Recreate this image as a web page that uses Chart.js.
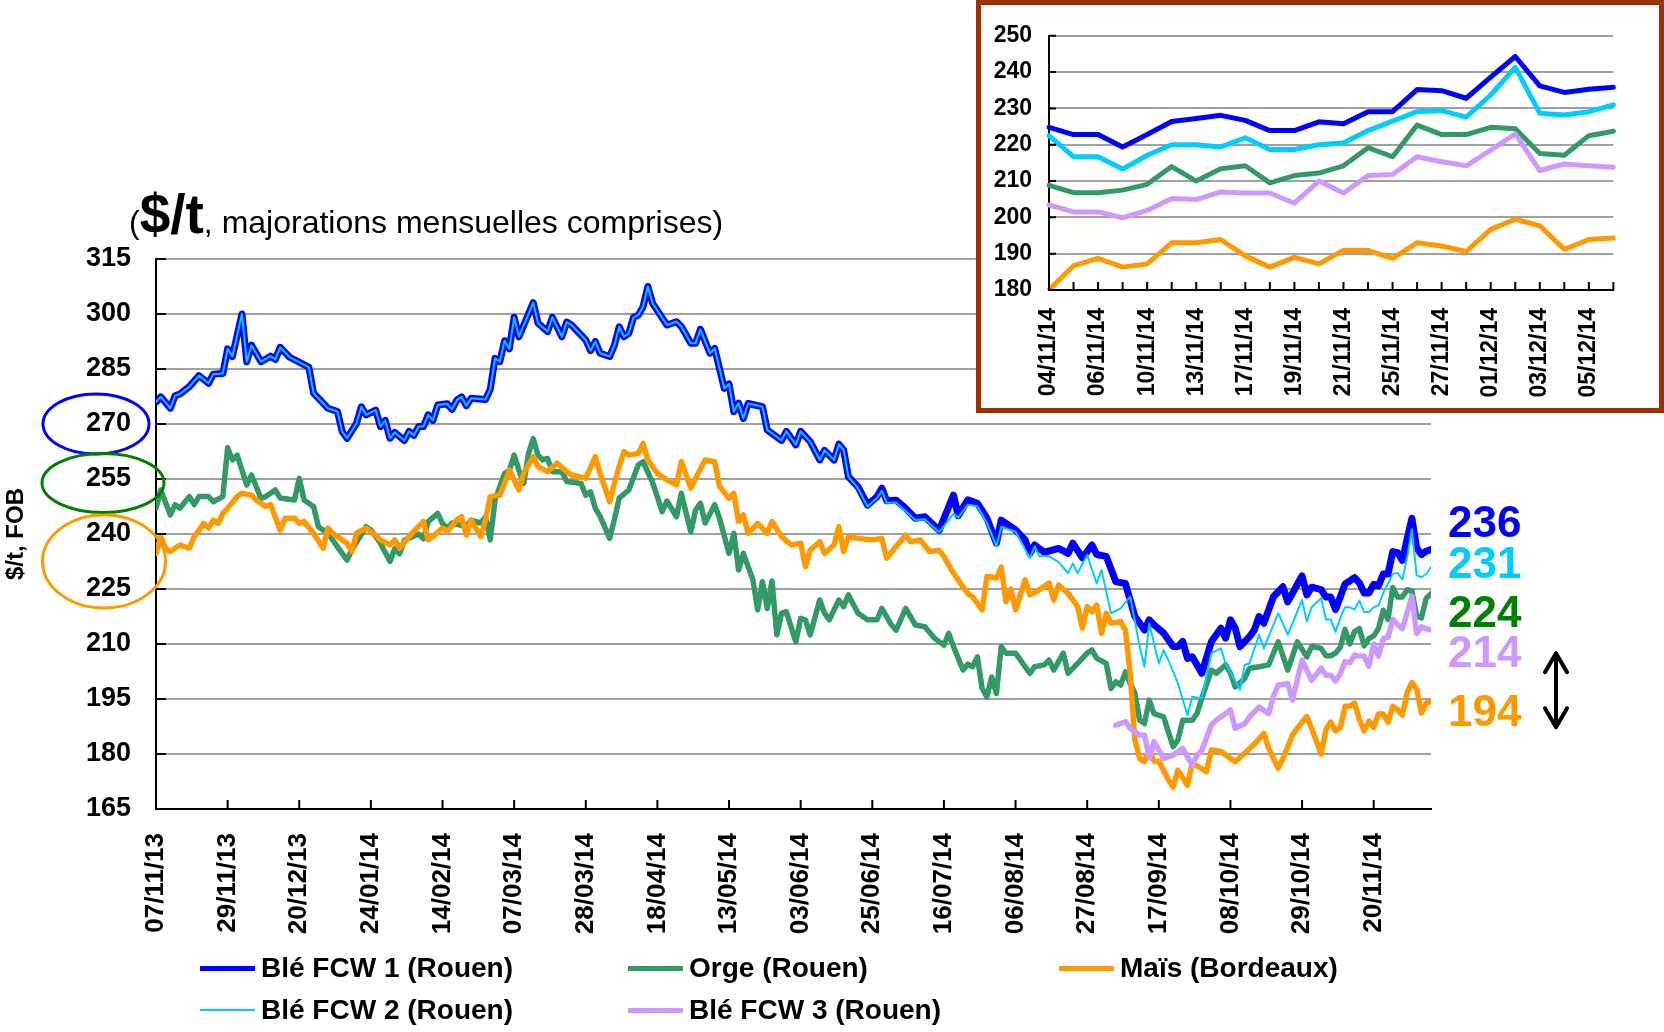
<!DOCTYPE html>
<html>
<head>
<meta charset="utf-8">
<script src="https://cdn.jsdelivr.net/npm/chart.js@4.4.0/dist/chart.umd.min.js"></script>
<style>
    html, body { margin: 0; padding: 0; background: #fff; }
    body { width: 1664px; height: 1032px; position: relative; overflow: hidden; font-family: "Liberation Sans", Arial, sans-serif; color: #000; }
    #main { position: absolute; left: 0; top: 0; }
    #insetBox { position: absolute; left: 976px; top: 0; width: 688px; height: 413px; border: 5px solid #993300; box-sizing: border-box; background: #fff; }
    #inset { position: absolute; left: 0; top: 0; }
    #title { position: absolute; left: 129px; top: 187px; display: flex; align-items: baseline; white-space: pre; }
    #title .small { font-size: 32px; line-height: 1; }
    #title .big { font-size: 55px; font-weight: bold; line-height: 1; }
    .last-value { position: absolute; left: 1448px; font-size: 44px; font-weight: bold; line-height: 1; }
    .legend-item { position: absolute; height: 28px; display: flex; align-items: center; font-size: 28px; font-weight: bold; line-height: 1; white-space: nowrap; }
    .legend-item .swatch { width: 55px; margin-right: 6px; }
</style>
</head>
<body>
<canvas id="main" width="1664" height="1032"></canvas>
<div id="title"><span class="small">(</span><span class="big">$/t</span><span class="small">, majorations mensuelles comprises)</span></div>
<div id="insetBox"><canvas id="inset" width="678" height="403"></canvas></div>
<div id="labels"></div>
<div id="legend"></div>
<script>
// x axis dates, one label every 15 quotation days
const tickDates = ['07/11/13', '29/11/13', '20/12/13', '24/01/14', '14/02/14', '07/03/14', '28/03/14', '18/04/14', '13/05/14',
    '03/06/14', '25/06/14', '16/07/14', '06/08/14', '27/08/14', '17/09/14', '08/10/14', '29/10/14', '20/11/14'];
const lastDay = 267;

// [quotation day, $/t], up to 31/10/14
const ble1 = [[0,276],[1,277.4],[3,274.3],[4,277.7],[5,278.2],[7,280.2],[9,283.2],[11,281.1],[12,283.6],[14,283.8],[15,290.5],[16,288.4],[18,300],[19,287],[20,291.5],[22,287],[24,288.5],[25,287.6],[26,290.9],[28,288.2],[32,285.5],[33,278.4],[36,274.3],[38,273.4],[39,267.9],[40,266.1],[42,270.2],[43,274.7],[44,272.5],[46,273.8],[47,269.3],[48,271],[49,266.1],[50,267.7],[52,265.5],[53,268],[54,266.9],[55,269.3],[56,269.3],[57,272.5],[58,271],[59,275.2],[61,275.5],[62,274],[63,276.5],[64,277.4],[65,275],[66,277],[69,276.7],[70,279.5],[71,287.9],[72,287],[73,292.7],[74,290.5],[75,299.1],[76,293.8],[79,303.1],[80,297.5],[82,295.2],[83,299.1],[85,293.8],[86,297.8],[87,297],[90,292.9],[91,290],[92,292.5],[93,289.3],[95,288.4],[96,291.5],[97,296.5],[98,293.8],[99,294.7],[100,299.1],[101,299.7],[102,302],[103,307.5],[104,302.9],[107,297],[109,297.9],[110,296.6],[112,292],[113,292],[114,295.8],[116,289.3],[117,290.6],[119,279.7],[120,280.9],[121,273.4],[122,275.7],[123,271.5],[124,275.6],[127,274.7],[128,268.4],[131,265.5],[132,268],[134,264.3],[135,268],[137,265.2],[139,260.2],[140,262.8],[142,260.2],[143,264.5],[144,262.9],[145,255.6],[147,252.9],[149,247.9],[151,250.2],[152,252.5],[153,249.1],[155,249.2],[157,247],[159,244.3],[161,244.7],[164,241],[167,250.6],[168,245],[170,249.3],[172,248.4],[174,244.3],[176,237.5],[177,243.8],[180,241.1],[182,238.4],[183,234.7],[184,237],[186,235],[189,236.1],[191,234.7],[192,237.5],[194,233.5],[196,237],[197,234.4],[199,233.9],[201,227],[203,226.5],[205,217.5],[207,213.8],[208,216.6],[209,215.2],[211,213],[213,209.3],[214,209.3],[215,210.7],[216,206.1],[217,206.5],[219,202],[221,210.6],[223,214.3],[224,211.6],[225,216.6],[226,214.3],[227,209.3],[229,212],[230,213.8],[231,217.5],[232,215.7],[234,222.9],[236,225.6],[237,221.5],[240,228.6],[241,223.4],[242,225.5]];
const ble2 = [[0,276],[1,277.4],[3,274.3],[4,277.7],[5,278.2],[7,280.2],[9,283.2],[11,281.1],[12,283.6],[14,283.8],[15,290.5],[16,288.4],[18,300],[19,287],[20,291.5],[22,287],[24,288.5],[25,287.6],[26,290.9],[28,288.2],[32,285.5],[33,278.4],[36,274.3],[38,273.4],[39,267.9],[40,266.1],[42,270.2],[43,274.7],[44,272.5],[46,273.8],[47,269.3],[48,271],[49,266.1],[50,267.7],[52,265.5],[53,268],[54,266.9],[55,269.3],[56,269.3],[57,272.5],[58,271],[59,275.2],[61,275.5],[62,274],[63,276.5],[64,277.4],[65,275],[66,277],[69,276.7],[70,279.5],[71,287.9],[72,287],[73,292.7],[74,290.5],[75,299.1],[76,293.8],[79,303.1],[80,297.5],[82,295.2],[83,299.1],[85,293.8],[86,297.8],[87,297],[90,292.9],[91,290],[92,292.5],[93,289.3],[95,288.4],[96,291.5],[97,296.5],[98,293.8],[99,294.7],[100,299.1],[101,299.7],[102,302],[103,307.5],[104,302.9],[107,297],[109,297.9],[110,296.6],[112,292],[113,292],[114,295.8],[116,289.3],[117,290.6],[119,279.7],[120,280.9],[121,273.4],[122,275.7],[123,271.5],[124,275.6],[127,274.7],[128,268.4],[131,265.5],[132,268],[134,264.3],[135,268],[137,265.2],[139,260.2],[140,262.8],[142,260.2],[143,264.5],[144,262.9],[145,255.6],[147,252.5],[149,247.5],[151,249.8],[152,251.8],[153,248.5],[155,248.5],[157,246.2],[159,243.8],[161,244],[164,240.5],[167,245.5],[168,244.5],[170,248],[172,247.6],[174,243],[176,236.6],[177,241.9],[180,240.6],[183,233.4],[184,236.6],[185,233.9],[187,233.9],[189,232.4],[191,229.3],[192,232],[193,229.3],[195,234.3],[197,226.5],[198,230.2],[200,218.4],[202,219.7],[204,222.9],[206,209.3],[207,203.8],[208,215.6],[210,204.7],[211,208.3],[212,205.6],[214,199.3],[216,190.6],[217,195.6],[219,195.2],[221,207.5],[223,208.8],[224,204.7],[227,197.5],[228,204.3],[229,204.7],[231,212.5],[232,208.8],[235,218.4],[237,212.5],[240,222],[241,216.1],[242,220]];
const orge = [[0,247],[1,252],[3,245.2],[4,248],[5,247],[7,250.2],[8,248],[9,250.2],[11,250.2],[12,248.8],[14,250.2],[15,263.5],[16,260.2],[17,261.5],[19,253.4],[20,256.1],[22,249.7],[23,250.2],[25,252],[26,249.8],[29,249.3],[30,255.2],[31,249.3],[33,247.5],[34,242],[36,240.2],[38,236.5],[40,232.9],[41,235.6],[44,242],[45,241.1],[47,237.5],[49,232.5],[50,236],[51,234.6],[52,238.3],[55,240],[56,238.7],[57,243.4],[59,245.6],[60,242.9],[61,241.6],[62,243],[65,242],[66,243.8],[68,243],[69,244.7],[70,238.4],[71,249.3],[73,256.5],[74,257.4],[75,261.5],[76,257.4],[77,253.8],[78,261.9],[79,266],[80,261.5],[81,260.2],[82,260.6],[83,257],[85,257],[86,254.3],[89,253.8],[90,250.6],[91,251.5],[92,247],[93,244.8],[95,238.8],[96,244],[97,249.8],[99,252],[101,258.8],[102,259.7],[104,254],[106,246.1],[107,249],[109,244.7],[110,251.1],[112,240.6],[113,246.5],[114,248.4],[115,243],[117,248],[118,244.3],[120,234.7],[121,240.2],[122,230.2],[123,234.7],[125,227.5],[126,219.3],[127,227],[128,219.7],[129,227.2],[130,212.5],[131,218.4],[132,218.8],[134,210.6],[135,217],[136,216.6],[137,212.5],[139,222],[140,218.4],[141,216.6],[143,222],[144,220.2],[145,223.4],[147,218.4],[149,216.6],[151,216.6],[152,219.7],[154,215.2],[155,213.8],[157,219.7],[159,215.2],[161,214.7],[163,211.6],[165,209.7],[166,212.9],[167,209.3],[169,202.9],[170,204.5],[171,203.8],[172,206.5],[173,197.9],[174,195.6],[175,201],[176,196.5],[177,209.3],[178,207.5],[180,207.5],[183,202],[184,203.8],[186,204.3],[187,205.6],[188,202.9],[190,207.5],[191,202],[193,204.7],[195,207.5],[196,208.4],[197,206.1],[199,204.7],[200,197.9],[201,199.7],[202,198.8],[203,202.4],[204,199.3],[205,196.5],[206,189.2],[207,188.3],[208,194.7],[209,191],[211,190.1],[213,182],[214,183.8],[215,189.2],[217,189.2],[218,191],[219,195.2],[221,202.9],[222,202],[224,204.3],[225,202],[226,198.3],[228,200.6],[229,203.4],[231,203.8],[233,204.3],[235,210.6],[237,202.9],[239,210.6],[241,206.5],[242,209.3]];
const mais = [[0,234.7],[1,239.3],[2,236.1],[3,235.2],[5,237],[7,236.1],[8,239.3],[9,241],[10,242.9],[11,241.6],[12,243.8],[13,242.9],[14,245.6],[15,247],[17,250.2],[18,251.1],[20,250.6],[21,249.3],[23,247.5],[24,248],[26,241.1],[27,244.3],[29,244.3],[30,242.9],[31,243.4],[33,240.2],[35,236.1],[36,241.6],[37,240.2],[39,238.4],[40,237.5],[41,235.2],[42,240.2],[44,241.6],[46,239.7],[47,238.4],[49,237],[50,238.4],[51,236.1],[53,239.3],[54,240.7],[56,243.4],[57,238.4],[58,239.3],[60,241.6],[61,240.7],[63,243.8],[64,244.7],[65,239.7],[66,243.8],[68,239.3],[69,243.8],[70,250.2],[72,250.6],[73,253.8],[74,257.5],[76,252],[77,256.5],[79,261.1],[80,258.4],[82,257],[84,259.3],[86,257],[87,256.1],[90,255.2],[92,261.1],[93,256.5],[95,248.8],[96,253.8],[97,258.4],[98,262.5],[99,261.5],[101,262],[102,264.7],[103,260.2],[105,256.5],[107,254.7],[109,253.4],[110,259.7],[112,252.5],[113,255.2],[115,260.2],[117,259.7],[118,253],[120,249.7],[121,251.1],[122,243.4],[123,245.2],[124,240.2],[126,242.9],[128,240.2],[129,243.4],[131,239.3],[133,237],[135,237.5],[136,231.1],[137,235.6],[139,237.9],[140,234.7],[142,237],[143,242],[144,235.2],[145,239.3],[147,238.8],[150,238.4],[152,238.8],[153,233.4],[155,236.6],[157,239.7],[158,237.9],[160,238.4],[162,235.2],[164,235.6],[165,233.8],[167,229.3],[169,225.6],[170,223.8],[171,222.9],[173,219.3],[174,228.4],[176,228],[177,231],[178,221.5],[179,225],[180,219.3],[182,227.5],[183,223.4],[185,224.8],[187,226.6],[188,222],[189,226.1],[191,223.8],[193,220.2],[194,214.3],[195,220.2],[196,218.8],[197,220.6],[198,212.9],[199,218.4],[200,215.7],[202,216.1],[203,213.8],[204,202],[205,183.8],[206,178.8],[207,177.9],[208,181.6],[209,178],[210,178],[212,173],[213,171],[214,175.6],[216,171.5],[217,177.5],[220,175.2],[221,181.1],[223,180.7],[226,177.9],[228,180.2],[230,182.7],[232,185.6],[233,181.6],[235,176.1],[236,178.8],[238,185.2],[239,187],[241,190.2],[242,187]];
const ble3 = [[201,187.9],[203,188.8],[204,187],[206,185.1],[207,185.1],[208,178.9],[209,183.4],[211,178.8],[213,179.7],[214,180.6],[215,181.5],[217,177],[218,179.7],[219,181],[221,187.9],[222,189.2],[225,192],[226,187],[228,188.3],[229,190.1],[231,192.8],[233,191],[234,195.6],[235,198.8],[237,199.2],[238,194.7],[240,205.6],[242,200.1]];

// inset: daily quotes 04/11/14 - 08/12/14 (also the end of the main chart)
const insetDates = ['04/11/14', '05/11/14', '06/11/14', '07/11/14', '10/11/14', '12/11/14', '13/11/14', '14/11/14', '17/11/14', '18/11/14', '19/11/14', '20/11/14',
    '21/11/14', '24/11/14', '25/11/14', '26/11/14', '27/11/14', '28/11/14', '01/12/14', '02/12/14', '03/12/14', '04/12/14', '05/12/14', '08/12/14'];
const insetStartDay = 244;
const insetBle1 = [224.8, 222.8, 222.8, 219.4, 222.8, 226.4, 227.2, 228.1, 226.7, 223.9, 223.9, 226.3, 225.8, 229.1, 229.1, 235.2, 234.9, 232.8, 238.6, 244.3, 236.2, 234.4, 235.3, 235.8];
const insetBle2 = [222.5, 216.7, 216.7, 213.3, 217.1, 220, 220, 219.4, 221.9, 218.7, 218.7, 220, 220.5, 223.9, 226.5, 229.1, 229.4, 227.6, 233.7, 241.3, 228.7, 228.2, 229.1, 231];
const insetOrge = [208.8, 206.8, 206.8, 207.5, 209.1, 214, 210, 213.4, 214.2, 209.5, 211.5, 212.2, 214.2, 219.2, 216.7, 225.4, 222.8, 222.8, 224.8, 224.4, 217.6, 217.1, 222.5, 223.7];
const insetBle3 = [203.4, 201.5, 201.5, 199.9, 201.9, 205.2, 204.9, 207, 206.7, 206.7, 203.9, 210, 206.7, 211.5, 211.8, 216.7, 215.3, 214.2, 218.5, 223, 212.9, 214.7, 214.2, 213.8];
const insetMais = [180, 186.7, 188.7, 186.3, 187.2, 193, 193, 193.9, 189.4, 186.3, 189, 187.2, 190.9, 190.9, 188.7, 193, 192.1, 190.6, 196.7, 199.5, 197.7, 191.2, 193.9, 194.3];

Chart.defaults.font.family = '"Liberation Sans", Arial, sans-serif';
Chart.defaults.color = '#000';

const series = [
    { name: 'Blé FCW 1 (Rouen)', main: ble1, inset: insetBle1, color: '#0000FF', width: 7, order: 4, valueColor: '#0000FF' },
    { name: 'Blé FCW 2 (Rouen)', main: ble2, inset: insetBle2, color: '#00CCFF', width: 2, order: 0, valueColor: '#00CCFF' },
    { name: 'Orge (Rouen)', main: orge, inset: insetOrge, color: '#339966', width: 5.5, order: 3, valueColor: '#008000' },
    { name: 'Blé FCW 3 (Rouen)', main: ble3, inset: insetBle3, color: '#CC99FF', width: 5.5, order: 1, valueColor: '#CC99FF' },
    { name: 'Maïs (Bordeaux)', main: mais, inset: insetMais, color: '#FF9900', width: 5.5, order: 2, valueColor: '#FF9900' }
];

const toPoints = (pairs, insetValues) => pairs
    .concat(insetValues.map((v, i) => [insetStartDay + i, v]))
    .map(([x, y]) => ({ x, y }));

// small tick marks drawn inside the plot, as in the original
const innerTicks = {
    id: 'innerTicks',
    afterDatasetsDraw(chart, args, opts) {
        const { ctx, chartArea, scales: { x, y } } = chart;
        ctx.save();
        ctx.strokeStyle = '#000';
        ctx.lineWidth = 2;
        ctx.beginPath();
        x.ticks.forEach((t, i) => {
            const px = x.getPixelForTick(i);
            ctx.moveTo(px, chartArea.bottom);
            ctx.lineTo(px, chartArea.bottom - opts.x);
        });
        y.ticks.forEach((t, i) => {
            const py = y.getPixelForTick(i);
            ctx.moveTo(chartArea.left, py);
            ctx.lineTo(chartArea.left + opts.y, py);
        });
        ctx.stroke();
        ctx.restore();
    }
};

// hand-drawn rings round the y labels and the double arrow
const marks = {
    id: 'marks',
    afterDraw(chart) {
        const { ctx, chartArea, scales: { y } } = chart;
        const rings = [
            ['#0000FF', chartArea.left - 60, y.getPixelForValue(270), 53, 30],
            ['#008000', chartArea.left - 53, y.getPixelForValue(255) + 4, 61, 29.5],
            ['#FF9900', chartArea.left - 52, y.getPixelForValue(232.5), 61.5, 46.5]
        ];
        ctx.save();
        ctx.lineWidth = 3;
        rings.forEach(([color, cx, cy, rx, ry]) => {
            ctx.strokeStyle = color;
            ctx.beginPath();
            ctx.ellipse(cx, cy, rx, ry, 0, 0, Math.PI * 2);
            ctx.stroke();
        });

        const ax = chartArea.right + 125;
        const top = y.getPixelForValue(207.5);
        const bottom = y.getPixelForValue(187.3);
        ctx.strokeStyle = '#000';
        ctx.lineWidth = 4;
        ctx.lineCap = 'round';
        ctx.lineJoin = 'round';
        ctx.beginPath();
        ctx.moveTo(ax, top);
        ctx.lineTo(ax, bottom);
        ctx.moveTo(ax - 11, top + 19);
        ctx.lineTo(ax, top);
        ctx.lineTo(ax + 11, top + 19);
        ctx.moveTo(ax - 11, bottom - 19);
        ctx.lineTo(ax, bottom);
        ctx.lineTo(ax + 11, bottom - 19);
        ctx.stroke();
        ctx.restore();
    }
};

new Chart(document.getElementById('main'), {
    type: 'line',
    data: {
        datasets: series.map(s => ({
            label: s.name,
            data: toPoints(s.main, s.inset),
            borderColor: s.color,
            borderWidth: s.width,
            order: s.order,
            pointRadius: 0,
            tension: 0,
            borderJoinStyle: 'round',
            borderCapStyle: 'round'
        }))
    },
    options: {
        responsive: false,
        animation: false,
        layout: { padding: { top: 259, right: 233, left: 0, bottom: 0 } },
        plugins: {
            legend: { display: false },
            tooltip: { enabled: false },
            innerTicks: { x: 9, y: 10 }
        },
        scales: {
            x: {
                type: 'linear',
                min: 0,
                max: lastDay,
                afterBuildTicks: (scale) => {
                    scale.ticks = tickDates.map((_, i) => ({ value: i * 15 }));
                },
                afterFit: (scale) => { scale.height = 223; },
                grid: { display: false, drawTicks: false },
                border: { color: '#000', width: 2 },
                ticks: {
                    autoSkip: false,
                    minRotation: 90,
                    maxRotation: 90,
                    padding: 24,
                    font: { size: 26, weight: 'bold' },
                    callback: (value) => tickDates[Math.round(value / 15)]
                }
            },
            y: {
                min: 165,
                max: 315,
                afterFit: (scale) => { scale.width = 156; },
                grid: { color: '#a0a0a0', lineWidth: 2, drawTicks: false },
                border: { color: '#000', width: 2 },
                ticks: { stepSize: 15, padding: 25, font: { size: 27, weight: 'bold' } },
                title: {
                    display: true,
                    text: '$/t, FOB',
                    font: { size: 24, weight: 'bold' },
                    padding: { top: 2, bottom: 0 }
                }
            }
        }
    },
    plugins: [innerTicks, marks]
});

new Chart(document.getElementById('inset'), {
    type: 'line',
    data: {
        labels: insetDates,
        datasets: series.map(s => ({
            label: s.name,
            data: s.inset,
            borderColor: s.color,
            borderWidth: 5,
            order: s.order,
            pointRadius: 0,
            tension: 0,
            borderJoinStyle: 'round',
            borderCapStyle: 'round'
        }))
    },
    options: {
        responsive: false,
        animation: false,
        layout: { padding: { top: 25, right: 28, left: 0, bottom: 0 } },
        plugins: {
            legend: { display: false },
            tooltip: { enabled: false },
            innerTicks: { x: 8, y: 7 }
        },
        scales: {
            x: {
                afterFit: (scale) => { scale.height = 118; },
                grid: { display: false, drawTicks: false },
                border: { color: '#000', width: 2 },
                ticks: {
                    autoSkip: false,
                    minRotation: 90,
                    maxRotation: 90,
                    padding: 18,
                    font: { size: 23, weight: 'bold' },
                    callback: (value, index) => (index % 2 === 0 ? insetDates[index] : '')
                }
            },
            y: {
                min: 180,
                max: 250,
                afterFit: (scale) => { scale.width = 68; },
                grid: { color: '#a0a0a0', lineWidth: 2, drawTicks: false },
                border: { color: '#000', width: 2 },
                ticks: { stepSize: 10, padding: 17, font: { size: 23, weight: 'bold' } }
            }
        }
    },
    plugins: [innerTicks]
});

// last values written at the right of the main chart
const labelTops = { 'Blé FCW 1 (Rouen)': 500, 'Blé FCW 2 (Rouen)': 541, 'Orge (Rouen)': 590, 'Blé FCW 3 (Rouen)': 630, 'Maïs (Bordeaux)': 689 };
const labelBox = document.getElementById('labels');
series.forEach(s => {
    const div = document.createElement('div');
    div.className = 'last-value';
    div.style.top = labelTops[s.name] + 'px';
    div.style.color = s.valueColor;
    div.textContent = Math.round(s.inset[s.inset.length - 1]);
    labelBox.appendChild(div);
});

// legend: three columns on two rows
const legendSpots = {
    'Blé FCW 1 (Rouen)': [200, 954],
    'Orge (Rouen)': [628, 954],
    'Maïs (Bordeaux)': [1059, 954],
    'Blé FCW 2 (Rouen)': [200, 996],
    'Blé FCW 3 (Rouen)': [628, 996]
};
const legendBox = document.getElementById('legend');
series.forEach(s => {
    const [left, top] = legendSpots[s.name];
    const item = document.createElement('div');
    item.className = 'legend-item';
    item.style.left = left + 'px';
    item.style.top = top + 'px';
    const swatch = document.createElement('span');
    swatch.className = 'swatch';
    swatch.style.height = (s.width < 3 ? 2 : 5) + 'px';
    swatch.style.background = s.color;
    item.appendChild(swatch);
    item.appendChild(document.createTextNode(s.name));
    legendBox.appendChild(item);
});
</script>
</body>
</html>
